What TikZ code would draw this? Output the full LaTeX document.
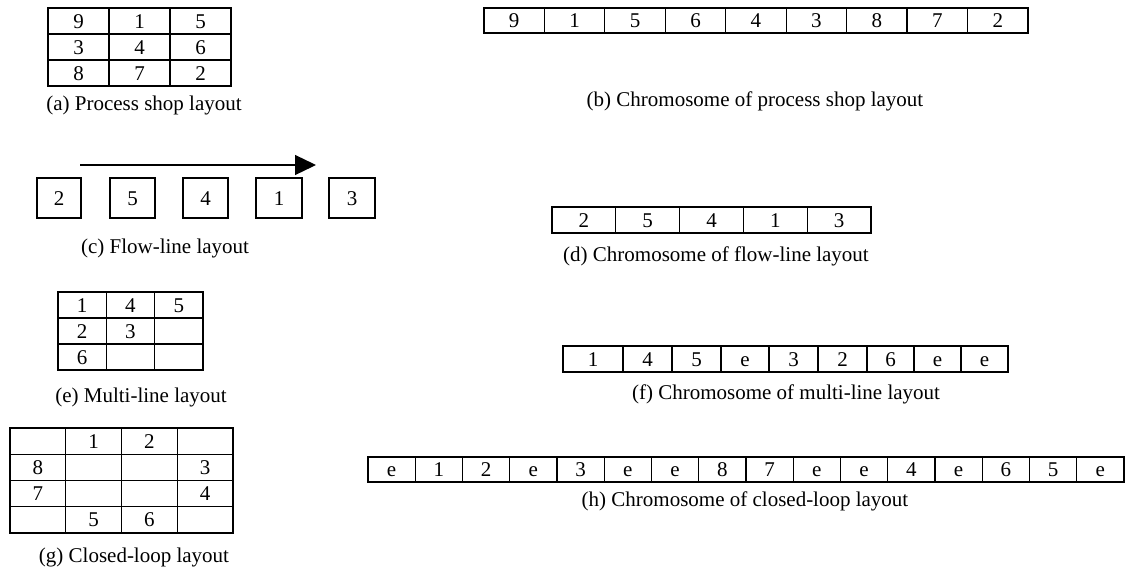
\documentclass[tikz,border=0pt]{standalone}
\usepackage{fontspec}
\setmainfont{Liberation Serif}
\usetikzlibrary{arrows.meta}
\begin{document}
\begin{tikzpicture}[x=1pt,y=-1pt,
  font=\fontsize{21}{25}\selectfont,
  cell/.style={draw, line width=1.2pt, inner sep=0pt, outer sep=0pt,
    text height=14pt, text depth=0pt},
  caption/.style={inner sep=0pt, anchor=center}]
\useasboundingbox (0,0) rectangle (1127,568);

% (a) process shop layout: 3x3 grid
\foreach \r/\row in {1/{9,1,5},2/{3,4,6},3/{8,7,2}}
  \foreach \t [count=\c] in \row
    \node[cell, minimum width=61pt, minimum height=26pt] (a\r\c)
      at ({48+(\c-0.5)*61},{8+(\r-0.5)*26}) {\t};
\node[caption] (capa) at (144,105) {(a) Process shop layout};

% (b) chromosome of the process shop layout
\foreach \t [count=\i] in {9,1,5,6,4,3,8,7,2}
  \node[cell, minimum width=60.44pt, minimum height=25pt] (b\i)
    at ({484+(\i-0.5)*60.44},20.5) {\t};
\node[caption] (capb) at (755,101) {(b) Chromosome of process shop layout};

% (c) flow-line layout: separate stations with the flow arrow above
\foreach \t/\l/\w [count=\i] in {2/37/44,5/110/45,4/183/45,1/256/46,3/329/46}
  \node[cell, minimum width=\w pt, minimum height=40pt] (c\i)
    at ({\l+\w/2},198) {\t};
\coordinate (flowS) at (80,165);
\coordinate (flowE) at (316,165);
\draw[line width=1.3pt, -{Triangle[length=21pt,width=20pt]}] (flowS) -- (flowE);
\node[caption] (capc) at (165,248) {(c) Flow-line layout};

% (d) chromosome of the flow-line layout
\foreach \t [count=\i] in {2,5,4,1,3}
  \node[cell, minimum width=63.8pt, minimum height=26pt] (d\i)
    at ({552+(\i-0.5)*63.8},220) {\t};
\node[caption] (capd) at (716,256) {(d) Chromosome of flow-line layout};

% (e) multi-line layout: 3x3 grid, partly empty
\foreach \r/\row in {1/{1,4,5},2/{2,3,{}},3/{6,{},{}}}
  \foreach \t [count=\c] in \row
    \node[cell, minimum width=48.33pt, minimum height=26pt] (e\r\c)
      at ({58+(\c-0.5)*48.33},{292+(\r-0.5)*26}) {\t};
\node[caption] (cape) at (141,397) {(e) Multi-line layout};

% (f) chromosome of the multi-line layout ('e' marks an empty slot)
\foreach \t/\l/\rr [count=\i] in {1/563/623,4/623/672,5/672/721,e/721/769,
    3/769/818,2/818/867,6/867/914,e/914/961,e/961/1008}
  \node[cell, minimum width={(\rr-\l)*1pt}, minimum height=26pt] (f\i)
    at ({(\l+\rr)/2},359) {\t};
\node[caption] (capf) at (786,394) {(f) Chromosome of multi-line layout};

% (g) closed-loop layout: 4x4 ring of stations
\foreach \r/\row in {1/{{},1,2,{}},2/{8,{},{},3},3/{7,{},{},4},4/{{},5,6,{}}}
  \foreach \t [count=\c] in \row
    \node[cell, minimum width=55.75pt, minimum height=26.25pt] (g\r\c)
      at ({10+(\c-0.5)*55.75},{428+(\r-0.5)*26.25}) {\t};
\node[caption] (capg) at (134,557) {(g) Closed-loop layout};

% (h) chromosome of the closed-loop layout
\foreach \t [count=\i] in {e,1,2,e,3,e,e,8,7,e,e,4,e,6,5,e}
  \node[cell, minimum width=47.25pt, minimum height=25pt] (h\i)
    at ({368+(\i-0.5)*47.25},469.5) {\t};
\node[caption] (caph) at (745,501) {(h) Chromosome of closed-loop layout};
\end{tikzpicture}
\end{document}
